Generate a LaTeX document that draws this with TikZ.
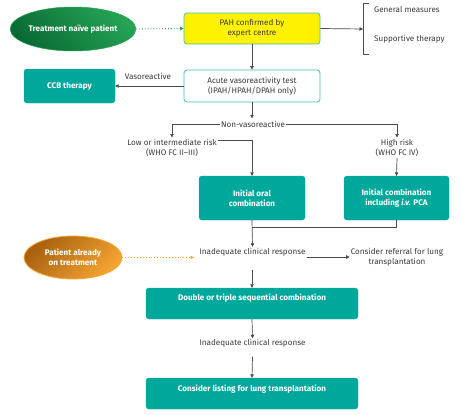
\documentclass[tikz,border=0pt]{standalone}
\usepackage{fontspec}
\setmainfont{Fira Sans}
\usetikzlibrary{shapes.geometric,arrows.meta,positioning}
\definecolor{teal1}{HTML}{00A89C}
\definecolor{tealB}{HTML}{3FBFB5}
\definecolor{txt}{HTML}{3A3A3A}
\definecolor{ln}{HTML}{4A4A4A}
\definecolor{ylw}{HTML}{FFF200}
\definecolor{gdark}{HTML}{0A6A34}
\definecolor{glight}{HTML}{25A455}
\definecolor{odark}{HTML}{A8600F}
\definecolor{olight}{HTML}{F5A532}
\newcommand\fsz{\fontsize{8.1}{9.6}\selectfont}
\tikzset{
  tbox/.style={draw=teal1, fill=teal1, rounded corners=3pt, text=white, font=\fsz\bfseries, align=center, inner sep=0pt},
  wbox/.style={draw=tealB, line width=0.8pt, rounded corners=3pt, align=center, text=txt, font=\fsz, inner sep=0pt},
  lbl/.style={text=txt, font=\fsz, align=center, inner sep=1pt},
  arr/.style={draw=ln, line width=0.7pt, -{Triangle[length=3.5pt,width=3.5pt]}},
  ln0/.style={draw=ln, line width=0.7pt},
}
\begin{document}
\begin{tikzpicture}[x=1pt,y=-1pt]
\useasboundingbox (0,0) rectangle (474,415);
% ellipses
\node[ellipse, minimum width=98pt, minimum height=44pt, inner sep=0pt, draw=glight, line width=0.5pt,
  left color=gdark, right color=glight, shading angle=135,
  text=white, font=\fsz\bfseries] (naive) at (73,29) {Treatment naïve patient};
\node[ellipse, minimum width=98pt, minimum height=43pt, inner sep=0pt, draw=olight, line width=0.8pt,
  left color=odark, right color=olight, shading angle=45,
  text=white, font=\fsz\bfseries, align=center] (already) at (73,257.5) {Patient already\\on treatment};
% boxes
\node[wbox, fill=ylw, minimum width=136pt, minimum height=31pt, text=txt] (pah) at (252,28.5) {PAH confirmed by\\expert centre};
\node[wbox, fill=white, minimum width=136pt, minimum height=32pt] (acute) at (252,86) {Acute vasoreactivity test\\(IPAH/HPAH/DPAH only)};
\node[tbox, minimum width=91pt, minimum height=34pt] (ccb) at (69.5,86) {CCB therapy};
\node[tbox, minimum width=106pt, minimum height=44pt] (oral) at (252,198) {Initial oral\\combination};
\node[tbox, minimum width=105pt, minimum height=44pt] (combo) at (396.5,198) {Initial combination\\including \textit{i.v.} PCA};
\node[tbox, minimum width=212pt, minimum height=31pt] (double) at (252,303.5) {};
\node[text=white, font=\fsz\bfseries, inner sep=0pt] (doublet) at (252,298) {Double or triple sequential combination};
\node[tbox, minimum width=212pt, minimum height=31pt] (listing) at (252,393.5) {};
\node[text=white, font=\fsz\bfseries, inner sep=0pt] (listingt) at (252,389) {Consider listing for lung transplantation};
% labels
\node[lbl, anchor=west] (gen) at (373,9.5) {General measures};
\node[lbl, anchor=west] (sup) at (373,39) {Supportive therapy};
\node[lbl] (vaso) at (148,76) {Vasoreactive};
\node[lbl] (nonvaso) at (253,124.5) {Non-vasoreactive};
\node[lbl] (low) at (172,148) {Low or intermediate risk\\(WHO FC II–III)};
\node[lbl] (high) at (397,148) {High risk\\(WHO FC IV)};
\node[lbl] (inad1) at (252.5,252) {Inadequate clinical response};
\node[lbl] (referral) at (397,257) {Consider referral for lung\\transplantation};
\node[lbl] (inad2) at (252.5,343.5) {Inadequate clinical response};
% bracket
\coordinate (brk) at (363,29);
\draw[ln0] (369,3) -- (363,3) -- (363,54) -- (369,54);
% connectors
\draw[dotted, draw=glight, line width=0.9pt, -{Triangle[length=3.5pt,width=3.5pt]}] (naive.east) -- (pah.west);
\draw[arr] (pah.east) -- (brk);
\draw[arr] (pah.south) -- (acute.north);
\draw[arr] (acute.west) -- (ccb.east);
\draw[arr] (acute.south) -- ++(0,16);
\draw[arr] (nonvaso.west) -| (172,137.5);
\draw[arr] (nonvaso.east) -| (397,137.5);
\draw[arr] (low.north east) ++(0,2) -| (oral.north);
\draw[arr] (high.south) -- (combo.north);
\draw[arr] (oral.south) -- (inad1.north);
\draw[ln0] (combo.south) |- (252,227);
\draw[dotted, draw=olight, line width=0.9pt, -{Triangle[length=3.5pt,width=3.5pt]}] (already.east) -- (194,257.5);
\draw[arr] (inad1.east) ++(0,5) -- (referral.west);
\draw[arr] (252,270) -- (double.north);
\draw[arr] (double.south) -- (inad2.north);
\draw[arr] (inad2.south) ++(0,8) -- (listing.north);
\end{tikzpicture}
\end{document}
